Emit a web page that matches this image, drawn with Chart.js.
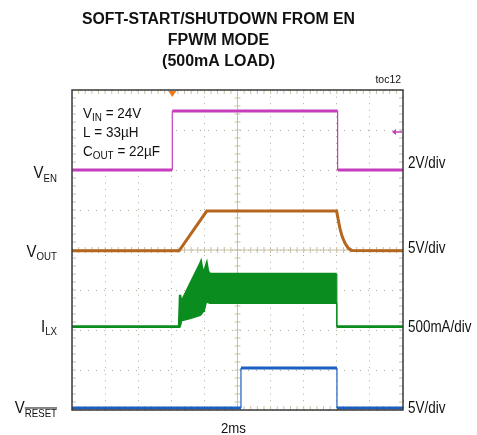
<!DOCTYPE html>
<html>
<head>
<meta charset="utf-8">
<script src="https://cdn.jsdelivr.net/npm/chart.js@4.4.1/dist/chart.umd.min.js"></script>
<style>
  body { margin: 0; background: #fff; }
  #wrap { width: 477px; height: 435px; }
</style>
</head>
<body>
<div id="wrap"><canvas id="scope" width="477" height="435"></canvas></div>
<script>
// ******* values (time in ms, V or A) *******
let enTime  = [0, 6.06, 6.06, 16.05, 16.05, 20];
let enVolts = [0, 0, 2.95, 2.95, 0, 0];
let enTrigger = 1.9; // trigger level arrow

let outTime  = [0, 6.47, 8.14, 15.99, 16.09, 16.19, 16.33, 16.5, 16.7, 16.9, 20];
let outVolts = [0, 0, 4.96, 4.96, 3.84, 2.8, 1.75, 0.93, 0.3, 0.05, 0];

// inductor current is a switching band, so keep its top and bottom edge
let lxTime   = [0, 6.47, 6.53, 6.59, 7.13, 7.73, 7.79, 7.93, 7.97, 8.14, 8.22, 8.34, 16.0, 16.0, 20];
let lxTop    = [0, 0, 0.40, 0.30, 0.53, 0.78, 0.81, 0.65, 0.68, 0.79, 0.69, 0.66, 0.66, 0, 0];
let lxBottom = [0, 0, 0.02, 0.08, 0.11, 0.15, 0.16, 0.20, 0.21, 0.36, 0.31, 0.30, 0.30, 0, 0];

let resetTime  = [0, 10.21, 10.21, 16.01, 16.01, 20];
let resetVolts = [0, 0, 5, 5, 0, 0];

// channel settings: ground marker (divisions from bottom) and scale per div
let chGround = [6, 3.98, 2.08, 0.05];
let chPerDiv = [2, 5, 0.5, 5];
let chScaleLabels = ['2V/div', '5V/div', '500mA/div', '5V/div'];
let timeLabel = '2ms';
let titleLines = ['SOFT-START/SHUTDOWN FROM EN', 'FPWM MODE', '(500mA LOAD)'];

const FONT = '"Liberation Sans", Arial, sans-serif';
const gridColor = 'rgba(150,142,115,0.75)';

// turns a channel into scope divisions
function toPoints(times, vals, ch) {
  let pts = [];
  for (let i = 0; i < times.length; i++) {
    pts.push({ x: times[i], y: chGround[ch] + vals[i] / chPerDiv[ch] });
  }
  return pts;
}

// fast edges are thin on the scope
function edgeWidth(wide) {
  return ctx => (ctx.p0.parsed.x === ctx.p1.parsed.x ? 1.2 : wide);
}

function trace(pts, color, extra) {
  let ds = {
    data: pts,
    borderColor: color,
    backgroundColor: color,
    borderWidth: 3,
    pointRadius: 0,
    tension: 0,
    fill: false,
    segment: { borderWidth: edgeWidth(3) }
  };
  return Object.assign(ds, extra || {});
}

// draws text made of pieces (subscripts, overbar) squeezed by k
function rich(ctx, parts, x, y, align, k) {
  ctx.save();
  let w = 0;
  parts.forEach(p => {
    ctx.font = (p.bold ? 'bold ' : '') + p.size + 'px ' + FONT;
    p.w = ctx.measureText(p.t).width;
    w += p.w;
  });
  let start = x;
  if (align === 'right') start = x - w * k;
  if (align === 'center') start = x - w * k / 2;
  ctx.translate(start, y);
  ctx.scale(k, 1);
  ctx.fillStyle = '#111';
  ctx.textAlign = 'left';
  ctx.textBaseline = 'alphabetic';
  let cx = 0;
  parts.forEach(p => {
    ctx.font = (p.bold ? 'bold ' : '') + p.size + 'px ' + FONT;
    ctx.fillText(p.t, cx, p.dy || 0);
    if (p.over) {
      ctx.fillRect(cx, (p.dy || 0) - p.size * 0.82, p.w, 1);
    }
    cx += p.w;
  });
  ctx.restore();
}

const scopeDecor = {
  id: 'scopeDecor',
  beforeDatasetsDraw(chart) {
    const ctx = chart.ctx;
    const a = chart.chartArea;
    const xs = chart.scales.x, ys = chart.scales.y;
    const cx = xs.getPixelForValue(10), cy = ys.getPixelForValue(4);
    ctx.save();
    // white box behind the notes
    ctx.fillStyle = '#fff';
    ctx.fillRect(a.left + 2, a.top + 4, 98, 74);

    ctx.strokeStyle = 'rgb(200,192,165)';
    ctx.lineWidth = 1;
    ctx.beginPath();
    ctx.moveTo(cx, a.top); ctx.lineTo(cx, a.bottom);
    ctx.moveTo(a.left, cy); ctx.lineTo(a.right, cy);
    ctx.stroke();

    // minor ticks, five per division
    ctx.beginPath();
    for (let i = 1; i < 50; i++) {
      let px = xs.getPixelForValue(i * 0.4);
      ctx.moveTo(px, a.top); ctx.lineTo(px, a.top + 4);
      ctx.moveTo(px, a.bottom); ctx.lineTo(px, a.bottom - 4);
      ctx.moveTo(px, cy - 3); ctx.lineTo(px, cy + 3);
    }
    for (let j = 1; j < 40; j++) {
      let py = ys.getPixelForValue(j * 0.2);
      ctx.moveTo(a.left, py); ctx.lineTo(a.left + 4, py);
      ctx.moveTo(a.right, py); ctx.lineTo(a.right - 4, py);
      ctx.moveTo(cx - 3, py); ctx.lineTo(cx + 3, py);
    }
    ctx.stroke();
    ctx.restore();
  },
  afterDraw(chart) {
    const ctx = chart.ctx;
    const a = chart.chartArea;
    const xs = chart.scales.x, ys = chart.scales.y;
    ctx.save();
    ctx.strokeStyle = '#3a3a3a';
    ctx.lineWidth = 1.5;
    ctx.strokeRect(a.left, a.top, a.right - a.left, a.bottom - a.top);

    // trigger point marker on top
    let tx = xs.getPixelForValue(enTime[1]);
    ctx.fillStyle = '#f07a1a';
    ctx.beginPath();
    ctx.moveTo(tx - 4, a.top + 1); ctx.lineTo(tx + 4, a.top + 1); ctx.lineTo(tx, a.top + 7);
    ctx.closePath(); ctx.fill();

    // trigger level arrow on the right
    let ly = ys.getPixelForValue(chGround[0] + enTrigger / chPerDiv[0]);
    ctx.strokeStyle = '#c93fbf';
    ctx.fillStyle = '#c93fbf';
    ctx.lineWidth = 1.5;
    ctx.beginPath();
    ctx.moveTo(a.right - 10, ly); ctx.lineTo(a.right - 1, ly);
    ctx.stroke();
    ctx.beginPath();
    ctx.moveTo(a.right - 11, ly); ctx.lineTo(a.right - 7, ly - 3); ctx.lineTo(a.right - 7, ly + 3);
    ctx.closePath(); ctx.fill();
    ctx.restore();

    // title
    titleLines.forEach((t, i) => {
      ctx.save();
      ctx.font = 'bold 16px ' + FONT;
      ctx.fillStyle = '#111';
      ctx.textAlign = 'center';
      ctx.fillText(t, 218.5, 23.5 + i * 21.4, i === 0 ? 273 : 400);
      ctx.restore();
    });
    rich(ctx, [{ t: 'toc12', size: 11 }], 401, 83, 'right', 0.95);

    // notes in the box
    rich(ctx, [{ t: 'V', size: 15 }, { t: 'IN', size: 11, dy: 3 }, { t: ' = 24V', size: 15 }], a.left + 11, 117.7, 'left', 0.9);
    rich(ctx, [{ t: 'L = 33\u00b5H', size: 15 }], a.left + 11, 136.7, 'left', 0.9);
    rich(ctx, [{ t: 'C', size: 15 }, { t: 'OUT', size: 11, dy: 3 }, { t: ' = 22\u00b5F', size: 15 }], a.left + 11, 156, 'left', 0.9);

    // channel names on the left
    rich(ctx, [{ t: 'V', size: 17 }, { t: 'EN', size: 11, dy: 3.5 }], 57, 178.3, 'right', 0.88);
    rich(ctx, [{ t: 'V', size: 17 }, { t: 'OUT', size: 11, dy: 3.5 }], 57, 256.7, 'right', 0.88);
    rich(ctx, [{ t: 'I', size: 17 }, { t: 'LX', size: 11, dy: 3.5 }], 57, 331.7, 'right', 0.88);
    rich(ctx, [{ t: 'V', size: 17 }, { t: 'RESET', size: 11, dy: 3.5, over: true }], 57, 413, 'right', 0.88);

    // scale per division on the right
    let labelY = [168, 253, 331.7, 413];
    chScaleLabels.forEach((s, i) => {
      rich(ctx, [{ t: s, size: 16 }], 408, labelY[i], 'left', 0.84);
    });
    rich(ctx, [{ t: timeLabel, size: 15 }], 233.5, 433.3, 'center', 0.88);
  }
};

const ctxScope = document.getElementById('scope').getContext('2d');

const scopeChart = new Chart(ctxScope, {
  type: 'line',
  data: {
    datasets: [
      trace(toPoints(enTime, enVolts, 0), '#c53dbd'),
      trace(toPoints(outTime, outVolts, 1), '#b5661f'),
      trace(toPoints(lxTime, lxTop, 2), '#0a8c1e', { borderWidth: 2.5, segment: { borderWidth: edgeWidth(2.5) } }),
      trace(toPoints(lxTime, lxBottom, 2), '#0a8c1e', { borderWidth: 2.5, fill: '-1', segment: { borderWidth: edgeWidth(2.5) } }),
      trace(toPoints(resetTime, resetVolts, 3), '#1a5fc2')
    ]
  },
  options: {
    responsive: false,
    animation: false,
    layout: { padding: { left: 72, right: 74, top: 90, bottom: 25 } },
    plugins: { legend: { display: false }, tooltip: { enabled: false } },
    scales: {
      x: {
        type: 'linear', min: 0, max: 20,
        ticks: { display: false, stepSize: 2 },
        grid: { color: gridColor, drawTicks: false, lineWidth: 1 },
        border: { display: false, dash: [1, 5.6] }
      },
      y: {
        type: 'linear', min: 0, max: 8,
        ticks: { display: false, stepSize: 1 },
        grid: { color: gridColor, drawTicks: false, lineWidth: 1 },
        border: { display: false, dash: [1, 7] }
      }
    }
  },
  plugins: [scopeDecor]
});
</script>
</body>
</html>
